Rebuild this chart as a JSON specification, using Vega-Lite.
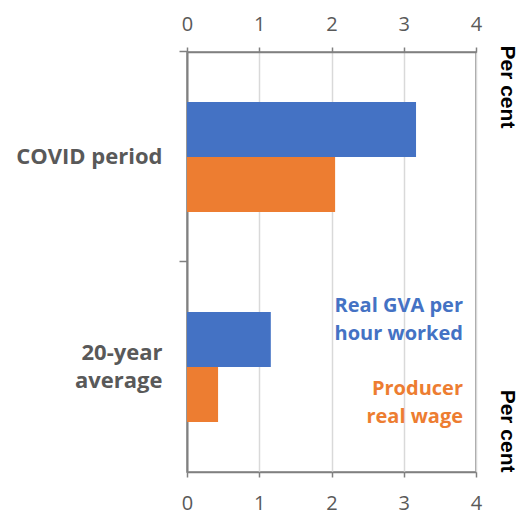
{
  "$schema": "https://vega.github.io/schema/vega-lite/v6.json",
  "autosize": {"type": "none"},
  "padding": {"left": 187, "top": 52, "right": 43, "bottom": 42},
  "width": 289,
  "height": 420,
  "background": "white",
  "config": {"view": {"stroke": "#808080", "strokeWidth": 1.5}},
  "datasets": {
    "bars": [
      {"category": "COVID period", "series": "Real GVA per hour worked", "value": 3.17},
      {"category": "COVID period", "series": "Producer real wage", "value": 2.05},
      {"category": "20-year average", "series": "Real GVA per hour worked", "value": 1.16},
      {"category": "20-year average", "series": "Producer real wage", "value": 0.43}
    ],
    "labels": [
      {"category": "20-year average", "series": "Real GVA per hour worked", "label": "Real GVA per\nhour worked", "pos": 3.82},
      {"category": "20-year average", "series": "Producer real wage", "label": "Producer\nreal wage", "pos": 3.82}
    ]
  },
  "resolve": {"axis": {"x": "independent"}},
  "layer": [
    {
      "data": {"name": "bars"},
      "mark": {"type": "bar"},
      "encoding": {
        "x": {
          "field": "value", "type": "quantitative",
          "scale": {"domain": [0, 4], "nice": false, "zero": true},
          "axis": {
            "orient": "bottom", "values": [0, 1, 2, 3, 4], "grid": true,
            "gridColor": "#d9d9d9", "gridWidth": 1.5,
            "domain": true, "ticks": true, "labelFlush": false,
            "domainColor": "#808080", "domainWidth": 1.5,
            "tickColor": "#808080", "tickSize": 5, "tickWidth": 1.5,
            "labelFont": "Open Sans", "labelFontSize": 20, "labelColor": "#595959",
            "labelPadding": 16,
            "title": "Per cent", "titleFont": "Liberation Sans", "titleFontSize": 21,
            "titleFontWeight": "bold", "titleColor": "#000000",
            "titleAngle": 90, "titleAlign": "right", "titleBaseline": "middle",
            "titleX": 319, "titleY": 0
          }
        },
        "y": {
          "field": "category", "type": "nominal",
          "scale": {"domain": ["COVID period", "20-year average"], "paddingInner": 0.476, "paddingOuter": 0.238},
          "axis": {
            "bandPosition": -0.4545,
            "domainColor": "#808080", "domainWidth": 2,
            "tickColor": "#808080", "tickSize": 8, "tickWidth": 1.5,
            "labelFont": "Open Sans", "labelFontSize": 22, "labelFontWeight": "bold",
            "labelColor": "#595959", "labelPadding": 17, "labelLineHeight": 28,
            "labelExpr": "datum.value == '20-year average' ? ['20-year', 'average'] : datum.value",
            "labelOffset": {"condition": {"test": "datum.value == '20-year average'", "value": -14}, "value": 0},
            "title": "Per cent", "titleFont": "Liberation Sans", "titleFontSize": 21,
            "titleFontWeight": "bold", "titleColor": "#000000",
            "titleAngle": 90, "titleAlign": "left", "titleBaseline": "middle",
            "titleX": 319, "titleY": -7
          }
        },
        "yOffset": {
          "field": "series", "type": "nominal",
          "sort": ["Real GVA per hour worked", "Producer real wage"],
          "scale": {"paddingInner": 0, "paddingOuter": 0}
        },
        "color": {
          "field": "series", "type": "nominal",
          "scale": {"domain": ["Real GVA per hour worked", "Producer real wage"], "range": ["#4472C4", "#ED7D31"]},
          "legend": null
        }
      }
    },
    {
      "data": {"name": "labels"},
      "transform": [{"filter": "datum.series == 'Real GVA per hour worked'"}],
      "mark": {"type": "text", "align": "right", "baseline": "alphabetic", "font": "Open Sans", "fontSize": 20, "fontWeight": "bold", "color": "#4472C4", "lineBreak": "\n", "lineHeight": 28, "dy": -55},
      "encoding": {
        "x": {
          "field": "pos", "type": "quantitative",
          "axis": {
            "orient": "top", "values": [0, 1, 2, 3, 4], "grid": false,
            "domain": true, "ticks": true, "labels": true, "labelFlush": false,
            "domainColor": "#808080", "domainWidth": 1.5,
            "tickColor": "#808080", "tickSize": 5, "tickWidth": 1.5,
            "labelFont": "Open Sans", "labelFontSize": 20, "labelColor": "#595959",
            "labelPadding": 13, "title": null
          }
        },
        "y": {"field": "category", "type": "nominal"},
        "text": {"field": "label"}
      }
    },
    {
      "data": {"name": "labels"},
      "transform": [{"filter": "datum.series == 'Producer real wage'"}],
      "mark": {"type": "text", "align": "right", "baseline": "alphabetic", "font": "Open Sans", "fontSize": 20, "fontWeight": "bold", "color": "#ED7D31", "lineBreak": "\n", "lineHeight": 28, "dy": 28},
      "encoding": {
        "x": {"field": "pos", "type": "quantitative", "axis": null},
        "y": {"field": "category", "type": "nominal"},
        "text": {"field": "label"}
      }
    }
  ]
}
